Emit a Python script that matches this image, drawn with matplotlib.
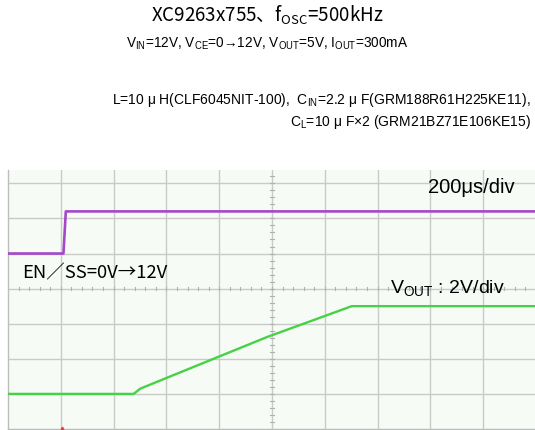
import matplotlib
matplotlib.use("Agg")
import matplotlib.pyplot as plt
import numpy as np

# scope traces (time in us, voltage in V)
en_t = [0, 210, 219, 2000]
en_v = [0, 0, 12, 12]
vout_t = [0, 476, 501, 981, 1302, 2000]
vout_v = [0, 0, 0.3, 3.24, 5.0, 5.0]

us_per_div = 200
en_scale, en_ground = 10, 5      # V/div, ground position (div)
vout_scale, vout_ground = 2, 1

title = "XC9263x755、f$_{\\mathregular{OSC}}$=500kHz"
cond = "V$_{\\mathregular{IN}}$=12V, V$_{\\mathregular{CE}}$=0→12V, V$_{\\mathregular{OUT}}$=5V, I$_{\\mathregular{OUT}}$=300mA"
parts1 = "L=10 μ H(CLF6045NIT-100),  C$_{\\mathregular{IN}}$=2.2 μ F(GRM188R61H225KE11),"
parts2 = "C$_{\\mathregular{L}}$=10 μ F×2 (GRM21BZ71E106KE15)"

fams = ['Noto Sans CJK JP', 'DejaVu Sans']
arial = ['Liberation Sans', 'DejaVu Sans']

W, H = 535, 430
fig = plt.figure(figsize=(W / 100, H / 100), dpi=100)
fig.patch.set_facecolor('white')

# scope screen (partly cropped at the top)
ax = fig.add_axes([8 / W, 1 / H, 528 / W, 259 / H])
ax.set_facecolor('#f6fbf6')
ax.set_xlim(0, 10 * us_per_div)
ax.set_ylim(0, 7.38)

gc = '#c9cbc9'
for i in range(1, 10):
    ax.axvline(i * us_per_div, color=gc, lw=1.0, zorder=1)
for j in range(1, 8):
    ax.axhline(j, color=gc, lw=1.0, zorder=1)

# minor ticks on the centre lines
for k in np.arange(0, 10.01, 0.2):
    ax.plot([k * us_per_div] * 2, [4 - 0.05, 4 + 0.05], color='#b0b0b0', lw=0.8, zorder=1)
for k in np.arange(0, 7.4, 0.2):
    ax.plot([5 * us_per_div - 8, 5 * us_per_div + 8], [k, k], color='#b0b0b0', lw=0.8, zorder=1)

for s in ax.spines.values():
    s.set_color('#bdbdbd')
    s.set_linewidth(1.0)
ax.spines['top'].set_visible(False)
ax.set_xticks([])
ax.set_yticks([])

ax.plot(en_t, en_ground + np.array(en_v) / en_scale, color='#a447c9', lw=1.9, zorder=3)
ax.plot(vout_t, vout_ground + np.array(vout_v) / vout_scale, color='#46d146', lw=1.7, zorder=3)

# trigger marker
ax.plot([1.03 * us_per_div], [0.02], marker='^', color='#e04040', ms=2, clip_on=False, zorder=4)

ax.text(1754, 6.88, "200μs/div", fontsize=14.5, family=arial, ha='center', va='center')
ax.text(53, 4.44, "EN／SS=0V→12V", fontsize=13.3, family=fams, ha='left', va='center')
ax.text(1447, 3.99, "V$_{\\mathregular{OUT}}$ : 2V/div", fontsize=14, family=arial, ha='left', va='center')

# headers
fig.text(267 / W, 1 - 15 / H, title, fontsize=13.5, family=fams, ha='center', va='center')
fig.text(267 / W, 1 - 44 / H, cond, fontsize=9.8, family=arial, ha='center', va='center')
fig.text(531 / W, 1 - 100 / H, parts1, fontsize=10, family=arial, ha='right', va='center')
fig.text(531 / W, 1 - 122 / H, parts2, fontsize=10, family=arial, ha='right', va='center')

fig.savefig("out.png", dpi=100)
